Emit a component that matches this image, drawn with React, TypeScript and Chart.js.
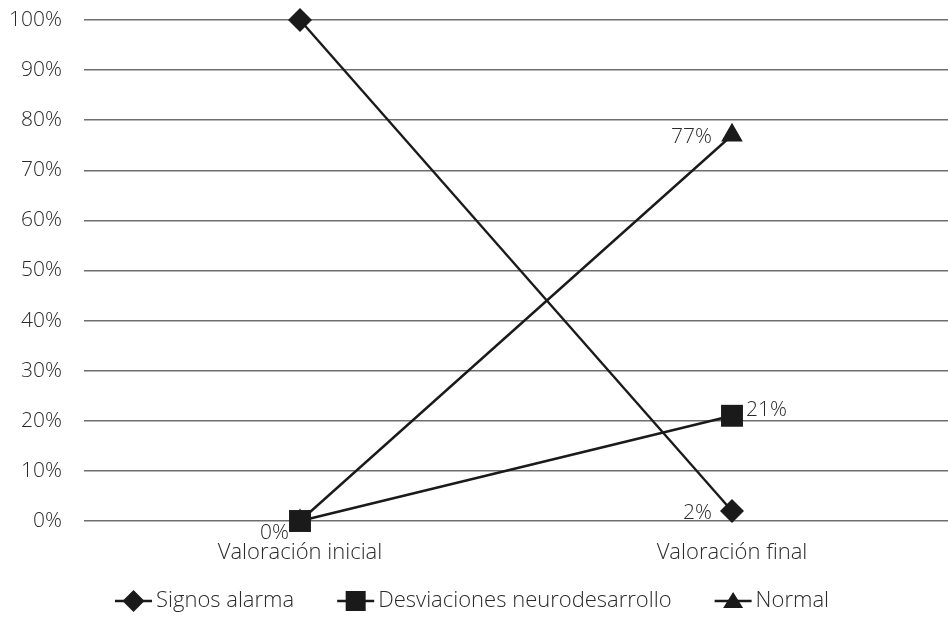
import React, { useEffect, useRef } from "react";
import { Chart, registerables } from "chart.js";

Chart.register(...registerables);

const categories = ["Valoración inicial", "Valoración final"];
const signosAlarma = [100, 2];
const desviaciones = [0, 21];
const normal = [0, 77];
const yTicks = [0, 10, 20, 30, 40, 50, 60, 70, 80, 90, 100];

// label text per point ("" = none)
const signosLabels = ["", "2%"];
const desviacionesLabels = ["", "21%"];
const normalLabels = ["0%", "77%"];

const FONT = "'Open Sans', Lato, sans-serif";
const INK = "#1a1a1a";
const TEXT = "#2a2a2a";

const labelPlugin = {
  id: "pointLabels",
  afterDatasetsDraw(chart: any) {
    const ctx = chart.ctx;
    ctx.save();
    ctx.font = `300 21px ${FONT}`;
    ctx.fillStyle = TEXT;
    chart.data.datasets.forEach((ds: any, di: number) => {
      const meta = chart.getDatasetMeta(di);
      (ds.pointLabels || []).forEach((txt: string, i: number) => {
        if (!txt) return;
        const el = meta.data[i];
        const pos = ds.labelPos[i];
        ctx.textBaseline = "middle";
        if (pos === "left") {
          ctx.textAlign = "right";
          ctx.fillText(txt, el.x - 20, el.y + 2);
        } else if (pos === "right") {
          ctx.textAlign = "left";
          ctx.fillText(txt, el.x + 14, el.y - 6);
        } else if (pos === "belowLeft") {
          ctx.textAlign = "right";
          ctx.fillText(txt, el.x - 11, el.y + 12);
        }
      });
    });
    ctx.restore();
  },
};

const legendPlugin = {
  id: "lineLegend",
  afterDraw(chart: any) {
    const ctx = chart.ctx;
    ctx.save();
    ctx.font = `300 22px ${FONT}`;
    const y = chart.height - 16;
    const lineW = 37;
    const gap = 4;
    const spacing = 43;
    const items = chart.data.datasets.map((ds: any) => ({
      text: ds.label,
      w: lineW + gap + ctx.measureText(ds.label).width,
      ds,
    }));
    const total = items.reduce((s: number, it: any) => s + it.w, 0) + spacing * (items.length - 1);
    let x = (chart.chartArea.left + chart.chartArea.right) / 2 - total / 2 - 44;
    items.forEach((it: any) => {
      ctx.strokeStyle = INK;
      ctx.lineWidth = 2.4;
      ctx.beginPath();
      ctx.moveTo(x, y);
      ctx.lineTo(x + lineW, y);
      ctx.stroke();
      ctx.fillStyle = INK;
      const cx = x + lineW / 2;
      const st = it.ds.pointStyle;
      ctx.beginPath();
      if (st === "rectRot") {
        const r = 11;
        ctx.moveTo(cx, y - r);
        ctx.lineTo(cx + r, y);
        ctx.lineTo(cx, y + r);
        ctx.lineTo(cx - r, y);
        ctx.closePath();
      } else if (st === "rect") {
        ctx.rect(cx - 10, y - 10, 20, 20);
      } else {
        ctx.moveTo(cx, y - 9);
        ctx.lineTo(cx + 10, y + 7);
        ctx.lineTo(cx - 10, y + 7);
        ctx.closePath();
      }
      ctx.fill();
      ctx.fillStyle = TEXT;
      ctx.textAlign = "left";
      ctx.textBaseline = "middle";
      ctx.fillText(it.text, x + lineW + gap, y);
      x += it.w + spacing;
    });
    ctx.restore();
  },
};

export default function App() {
  const ref = useRef<HTMLCanvasElement>(null);
  useEffect(() => {
    document.body.style.margin = "0";
    const common = {
      borderColor: INK,
      backgroundColor: INK,
      pointBackgroundColor: INK,
      pointBorderColor: INK,
      borderWidth: 2.4,
      pointBorderWidth: 0,
      tension: 0,
      clip: false,
    };
    const chart = new Chart(ref.current!, {
      type: "line",
      data: {
        labels: categories,
        datasets: [
          {
            ...common,
            label: "Signos alarma",
            data: signosAlarma,
            pointStyle: "rectRot",
            pointRadius: 12,
            pointLabels: signosLabels,
            labelPos: ["", "left"],
          } as any,
          {
            ...common,
            label: "Desviaciones neurodesarrollo",
            data: desviaciones,
            pointStyle: "rect",
            pointRadius: 15.5,
            pointLabels: desviacionesLabels,
            labelPos: ["", "right"],
          } as any,
          {
            ...common,
            label: "Normal",
            data: normal,
            pointStyle: "triangle",
            pointRadius: 12.5,
            pointLabels: normalLabels,
            labelPos: ["belowLeft", "left"],
          } as any,
        ],
      },
      options: {
        animation: false,
        responsive: false,
        maintainAspectRatio: false,
        layout: { autoPadding: false, padding: { top: 20, right: 0, bottom: 50, left: 0 } },
        plugins: {
          legend: { display: false },
          tooltip: { enabled: false },
        },
        scales: {
          x: {
            offset: true,
            grid: { display: false, drawTicks: false },
            border: { display: false },
            ticks: {
              color: TEXT,
              font: { family: FONT, size: 22, weight: 300 as any },
              padding: 19,
            },
            afterFit: (s: any) => {
              s.height = 46;
              s.paddingLeft = 0;
              s.paddingRight = 0;
            },
          },
          y: {
            min: 0,
            max: 100,
            afterBuildTicks: (s: any) => {
              s.ticks = yTicks.map((v) => ({ value: v }));
            },
            grid: { color: "#6e6e6e", lineWidth: 1.6, drawTicks: false },
            border: { display: false },
            ticks: {
              color: TEXT,
              padding: 22,
              font: { family: FONT, size: 21, weight: 300 as any },
              callback: (v: any) => v + "%",
            },
            afterFit: (s: any) => {
              s.width = 84;
              s.paddingTop = 0;
              s.paddingBottom = 0;
            },
          },
        },
      },
      plugins: [labelPlugin, legendPlugin],
    });
    return () => chart.destroy();
  }, []);
  return (
    <div style={{ width: 948, height: 617 }}>
      <canvas ref={ref} width={948} height={617} style={{ width: 948, height: 617 }} />
    </div>
  );
}
